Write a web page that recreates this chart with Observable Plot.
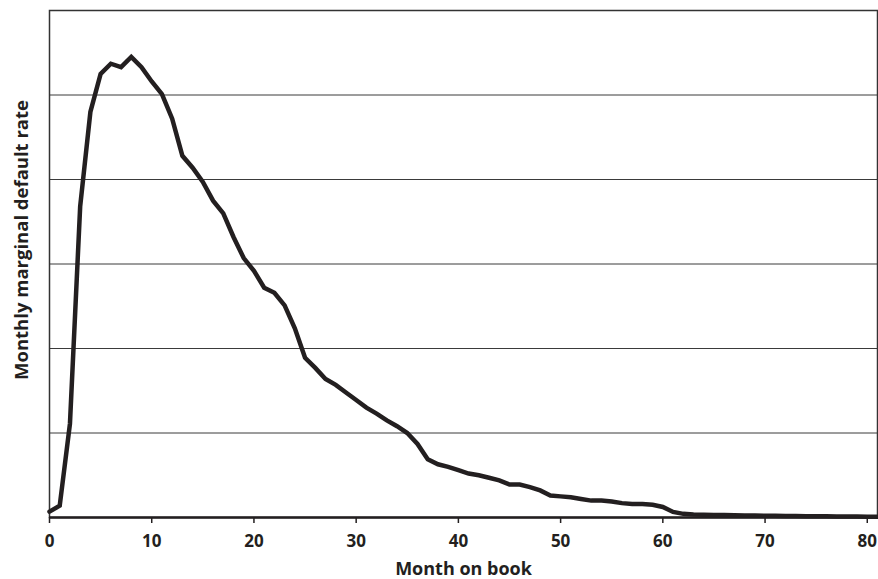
<!DOCTYPE html>
<html>
<head>
<meta charset="utf-8">
<script src="https://cdn.jsdelivr.net/npm/d3@7"></script>
<script src="https://cdn.jsdelivr.net/npm/@observablehq/plot@0.6"></script>
<style>
  html, body { margin: 0; padding: 0; background: #fff; }
</style>
</head>
<body>
<div id="chart"></div>
<script>
// Month on book (x) and monthly marginal default rate (y, arbitrary units – axis unlabeled)
const months = d3.range(0, 82);
const rates = [
  0.07, 0.14, 1.11, 3.68, 4.80, 5.25, 5.37, 5.33, 5.45, 5.33,
  5.16, 5.01, 4.72, 4.28, 4.14, 3.97, 3.75, 3.60, 3.32, 3.07,
  2.92, 2.72, 2.66, 2.51, 2.24, 1.89, 1.77, 1.64, 1.57, 1.48,
  1.39, 1.30, 1.23, 1.15, 1.08, 1.00, 0.87, 0.69, 0.63, 0.60,
  0.56, 0.52, 0.50, 0.47, 0.44, 0.39, 0.39, 0.36, 0.32, 0.26,
  0.25, 0.24, 0.22, 0.20, 0.20, 0.19, 0.17, 0.16, 0.16, 0.15,
  0.125, 0.066, 0.043, 0.035, 0.033, 0.031, 0.029, 0.027, 0.025, 0.023,
  0.021, 0.020, 0.019, 0.017, 0.016, 0.015, 0.014, 0.013, 0.012, 0.011,
  0.010, 0.009
];
const xTicks = [0, 10, 20, 30, 40, 50, 60, 70, 80];
const gridValues = [1, 2, 3, 4, 5];
const xLabel = "Month on book";
const yLabel = "Monthly marginal default rate";

const data = months.map((m, i) => ({month: m, rate: rates[i]}));

const chart = Plot.plot({
  width: 878,
  height: 579,
  marginLeft: 49,
  marginRight: 1,
  marginTop: 10,
  marginBottom: 62,
  style: {fontFamily: "'Open Sans', sans-serif", fontWeight: "bold", fontSize: "17px", color: "#231f20", background: "#fff"},
  x: {domain: [0, 81]},
  y: {domain: [0, 6], axis: null},
  marks: [
    Plot.ruleY(gridValues, {stroke: "#3a3a3a", strokeWidth: 1}),
    Plot.frame({stroke: "#333", strokeWidth: 1.5}),
    Plot.ruleY([0], {stroke: "#231f20", strokeWidth: 2.5}),
    Plot.axisX({ticks: xTicks, tickSize: 6, tickPadding: 11, stroke: "#231f20", strokeWidth: 1.5, fontSize: 17, fontWeight: "bold", fill: "#231f20", label: null}),
    Plot.line(data, {x: "month", y: "rate", stroke: "#231f20", strokeWidth: 4.5, strokeLinejoin: "miter", strokeMiterlimit: 4}),
    Plot.text([xLabel], {frameAnchor: "bottom", textAnchor: "middle", dy: 57, fontSize: 18, fontWeight: "bold", fill: "#231f20"}),
    Plot.text([yLabel], {frameAnchor: "left", textAnchor: "middle", lineAnchor: "middle", rotate: -90, dx: -27, dy: -24, fontSize: 18.5, fontWeight: "bold", fill: "#231f20"})
  ]
});
document.getElementById("chart").appendChild(chart);
</script>
</body>
</html>
